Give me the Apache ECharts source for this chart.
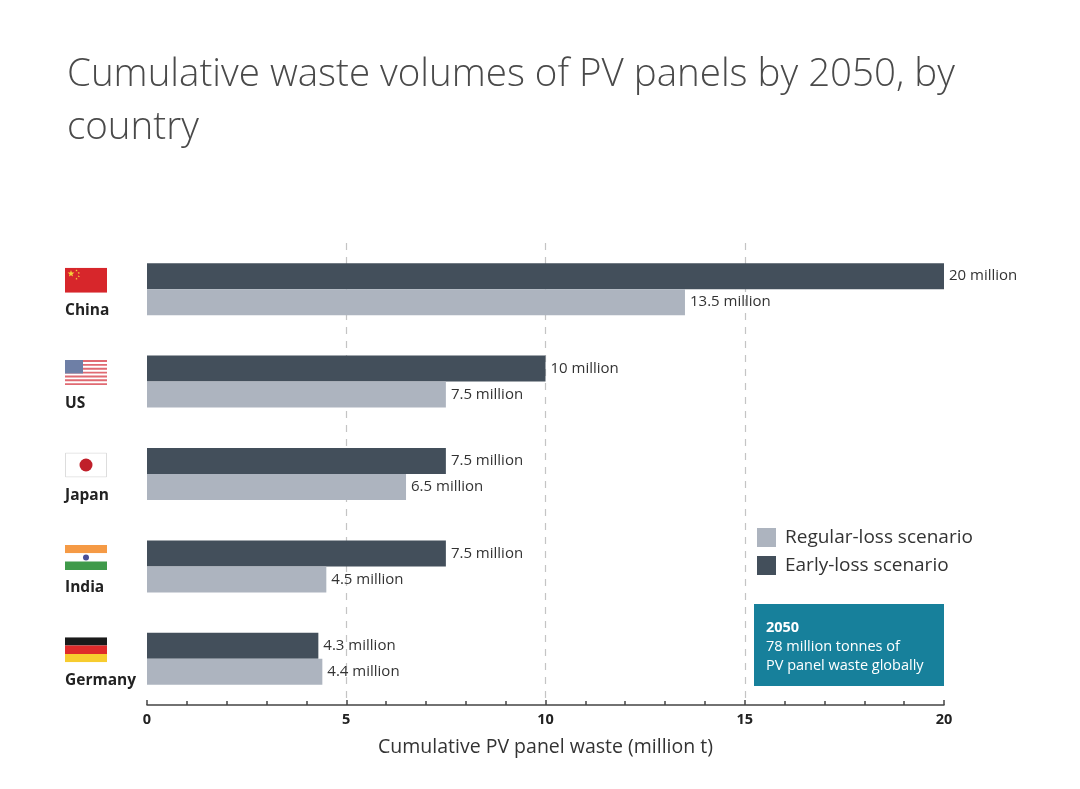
<!DOCTYPE html>
<html>
<head>
<meta charset="utf-8">
<title>Cumulative waste volumes of PV panels by 2050</title>
<script src="https://cdn.jsdelivr.net/npm/echarts@6/dist/echarts.min.js"></script>
<style>
  html, body { margin: 0; padding: 0; background: #fff; }
  #chart { width: 1080px; height: 789px; }
</style>
</head>
<body>
<div id="chart"></div>
<script>
// 数据
const countries = ['China', 'US', 'Japan', 'India', 'Germany'];
const earlyLoss = [20, 10, 7.5, 7.5, 4.3];
const regularLoss = [13.5, 7.5, 6.5, 4.5, 4.4];
const xTicks = [0, 5, 10, 15, 20];

// 国旗（SVG data uri）
const svg = body => 'data:image/svg+xml;charset=utf-8,' + encodeURIComponent(
  '<svg xmlns="http://www.w3.org/2000/svg" width="84" height="50" viewBox="0 0 42 25">' + body + '</svg>'
);
const star = (cx, cy, r) => {
  let pts = [];
  for (let i = 0; i < 10; i++) {
    const a = -Math.PI / 2 + i * Math.PI / 5;
    const rr = i % 2 ? r * 0.4 : r;
    pts.push((cx + rr * Math.cos(a)).toFixed(2) + ',' + (cy + rr * Math.sin(a)).toFixed(2));
  }
  return '<polygon fill="#f5d33a" points="' + pts.join(' ') + '"/>';
};
const usStripes = () => {
  let s = '<rect width="42" height="25" fill="#fff"/>';
  for (let i = 0; i < 7; i++) {
    s += '<rect y="' + (i * 25 / 6.5) + '" width="42" height="' + (25 / 13) + '" fill="#e06a72"/>';
  }
  return s + '<rect width="18" height="13.5" fill="#6e7fa6"/>';
};
const flags = {
  China: svg('<rect width="42" height="25" fill="#d7262b"/>' + star(6, 6, 3.6) +
    star(11.5, 2.8, 1.2) + star(13.8, 5.3, 1.2) + star(13.8, 8.6, 1.2) + star(11.5, 11, 1.2)),
  US: svg(usStripes()),
  Japan: svg('<rect x="0.5" y="0.5" width="41" height="24" fill="#fff" stroke="#ddd"/><circle cx="21" cy="12.5" r="6.5" fill="#c0202a"/>'),
  India: svg('<rect width="42" height="8.3" fill="#f59a45"/><rect y="8.3" width="42" height="8.4" fill="#fff"/><rect y="16.7" width="42" height="8.3" fill="#3f9a4a"/><circle cx="21" cy="12.5" r="3" fill="#4a4f97"/>'),
  Germany: svg('<rect width="42" height="8.3" fill="#1a1a1a"/><rect y="8.3" width="42" height="8.4" fill="#df2a2a"/><rect y="16.7" width="42" height="8.3" fill="#f7cc2f"/>')
};

const richFlags = {};
countries.forEach(c => {
  richFlags['f' + c] = {
    width: 42,
    height: 25,
    backgroundColor: { image: flags[c] }
  };
});
richFlags.name = {
  fontFamily: 'Open Sans',
  fontSize: 15.5,
  fontWeight: 'bold',
  color: '#222',
  lineHeight: 24,
  padding: [12, 0, 0, 0]
};

const labelStyle = {
  show: true,
  position: 'right',
  distance: 5,
  fontFamily: 'Open Sans',
  fontSize: 15,
  color: '#333',
  formatter: p => p.value + ' million'
};

const chart = echarts.init(document.getElementById('chart'));
chart.setOption({
  backgroundColor: '#fff',
  animation: false,
  title: {
    text: 'Cumulative waste volumes of PV panels by 2050, by\ncountry',
    left: 62,
    top: 44,
    textStyle: {
      fontFamily: 'Open Sans',
      fontWeight: 300,
      fontSize: 38.5,
      lineHeight: 53,
      color: '#4a4a4a'
    }
  },
  legend: {
    orient: 'vertical',
    left: 757,
    top: 528,
    padding: 0,
    itemWidth: 19,
    itemHeight: 19,
    itemGap: 9,
    icon: 'rect',
    data: ['Regular-loss scenario', 'Early-loss scenario'],
    textStyle: {
      fontFamily: 'Open Sans',
      fontSize: 19,
      color: '#333',
      padding: [0, 0, 0, 4]
    }
  },
  grid: {
    left: 147,
    right: 136,
    top: 243,
    bottom: 84
  },
  xAxis: {
    type: 'value',
    min: 0,
    max: 20,
    interval: 5,
    name: 'Cumulative PV panel waste (million t)',
    nameLocation: 'middle',
    nameGap: 32,
    nameTextStyle: {
      fontFamily: 'Open Sans',
      fontSize: 19.5,
      color: '#333'
    },
    axisLine: { show: true, lineStyle: { color: '#444', width: 1.5 } },
    axisTick: { show: true, inside: true, length: 5, lineStyle: { color: '#444', width: 1.5 } },
    minorTick: { show: true, splitNumber: 5, length: 4, lineStyle: { color: '#444', width: 1.5 } },
    axisLabel: {
      fontFamily: 'Open Sans',
      fontWeight: 'bold',
      fontSize: 14.5,
      color: '#222',
      margin: 7,
      formatter: v => xTicks.indexOf(v) > -1 ? String(v) : ''
    },
    splitLine: {
      show: true,
      showMinLine: false,
      showMaxLine: false,
      lineStyle: { color: '#c4c4c4', type: [7, 7], width: 1.2 }
    }
  },
  yAxis: {
    type: 'category',
    inverse: true,
    data: countries,
    axisLine: { show: false },
    axisTick: { show: false },
    axisLabel: {
      align: 'left',
      margin: 82,
      padding: [6, 0, 0, 0],
      formatter: v => '{f' + v + '|}\n{name|' + v + '}',
      rich: richFlags
    }
  },
  series: [
    {
      name: 'Early-loss scenario',
      type: 'bar',
      data: earlyLoss,
      barWidth: 26,
      barGap: '0%',
      itemStyle: { color: '#434f5b' },
      label: labelStyle
    },
    {
      name: 'Regular-loss scenario',
      type: 'bar',
      data: regularLoss,
      barWidth: 26,
      itemStyle: { color: '#adb4bf' },
      label: labelStyle
    }
  ],
  graphic: [
    {
      type: 'group',
      left: 754,
      top: 604,
      children: [
        {
          type: 'rect',
          shape: { x: 0, y: 0, width: 190, height: 82 },
          style: { fill: '#17809b' }
        },
        {
          type: 'text',
          x: 12,
          y: 14,
          style: {
            text: '{b|2050}\n{t|78 million tonnes of}\n{t|PV panel waste globally}',
            fill: '#fff',
            rich: {
              b: { fontFamily: 'Open Sans', fontWeight: 'bold', fontSize: 14.5, lineHeight: 19, fill: '#fff' },
              t: { fontFamily: 'Open Sans', fontSize: 14.5, lineHeight: 19, fill: '#fff' }
            }
          }
        }
      ]
    }
  ]
});
</script>
</body>
</html>
